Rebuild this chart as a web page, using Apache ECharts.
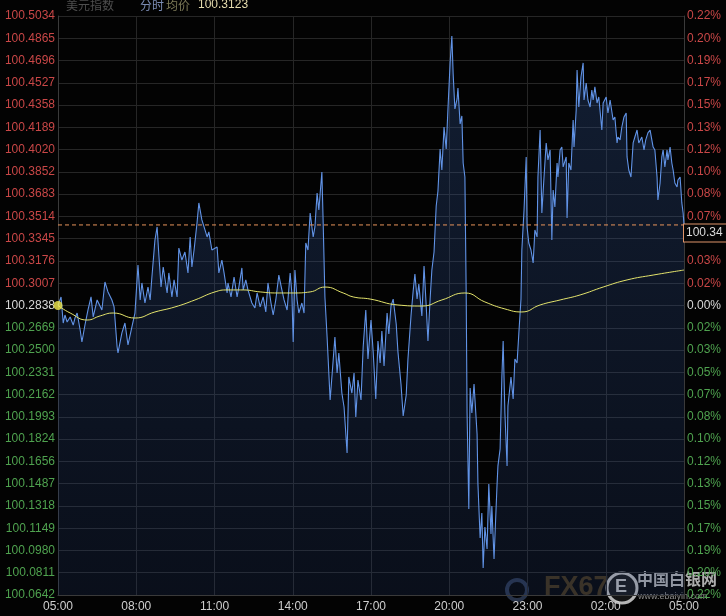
<!DOCTYPE html>
<html><head><meta charset="utf-8">
<script src="https://cdn.jsdelivr.net/npm/echarts@6/dist/echarts.min.js"></script>
<style>html,body{margin:0;padding:0;background:#030303;}#c{width:726px;height:616px;}</style>
</head><body><div id="c"></div>
<script>
// ---------------- data ----------------
const timeLabels = ['05:00','08:00','11:00','14:00','17:00','20:00','23:00','02:00','05:00'];
const priceLabels = ['100.0642','100.0811','100.0980','100.1149','100.1318','100.1487','100.1656','100.1824','100.1993','100.2162','100.2331','100.2500','100.2669','100.2838','100.3007','100.3176','100.3345','100.3514','100.3683','100.3852','100.4020','100.4189','100.4358','100.4527','100.4696','100.4865','100.5034'];
const pctLabels = ['0.22%','0.20%','0.19%','0.17%','0.15%','0.13%','0.12%','0.10%','0.08%','0.07%','0.05%','0.03%','0.02%','0.00%','0.02%','0.03%','0.05%','0.07%','0.08%','0.10%','0.12%','0.13%','0.15%','0.17%','0.19%','0.20%','0.22%'];
const priceMin = 100.0642, priceMax = 100.5034, prevClose = 100.2838;
const lastPrice = 100.3449, lastPriceText = '100.34';
const sessionStart = 0, sessionEnd = 1440;
const headerName = '美元指数', headerMode = '分时', headerAvg = '均价', headerValue = '100.3123';
// minutes after 05:00, price
const priceTrace = [[0,100.2838],[7,100.2903],[12,100.2705],[16,100.2766],[21,100.2713],[28,100.2751],[35,100.2690],[39,100.2743],[44,100.2781],[51,100.2652],[55,100.2561],[62,100.2690],[69,100.2804],[76,100.2903],[81,100.2751],[90,100.2880],[101,100.2804],[108,100.3016],[115,100.2941],[124,100.2880],[129,100.2827],[136,100.2523],[138,100.2478],[147,100.2630],[154,100.2705],[161,100.2539],[170,100.2675],[177,100.2781],[184,100.3145],[189,100.2880],[193,100.3009],[200,100.2857],[207,100.2978],[212,100.2880],[216,100.3054],[223,100.3335],[228,100.3434],[232,100.3221],[237,100.2978],[242,100.3130],[251,100.2933],[255,100.3085],[262,100.2903],[267,100.3032],[274,100.2903],[278,100.3274],[285,100.3183],[292,100.3244],[299,100.3085],[304,100.3358],[308,100.3130],[313,100.3259],[320,100.3471],[324,100.3616],[331,100.3487],[336,100.3434],[343,100.3358],[347,100.3396],[354,100.3259],[366,100.3282],[370,100.3085],[377,100.3183],[382,100.3085],[389,100.2933],[391,100.3009],[398,100.2903],[405,100.3054],[412,100.2903],[416,100.2978],[423,100.3123],[426,100.2956],[432,100.3032],[437,100.2956],[446,100.2857],[453,100.2819],[458,100.2933],[465,100.2827],[472,100.2903],[478,100.2789],[483,100.3009],[490,100.2857],[495,100.2766],[501,100.2880],[508,100.3069],[515,100.2956],[520,100.2880],[527,100.2804],[534,100.3085],[538,100.2933],[541,100.2561],[545,100.3107],[550,100.2880],[554,100.2781],[561,100.2857],[566,100.2781],[570,100.3312],[575,100.3259],[580,100.3540],[587,100.3358],[591,100.3434],[596,100.3691],[600,100.3563],[607,100.3851],[610,100.3464],[614,100.2903],[619,100.2599],[626,100.2121],[633,100.2425],[637,100.2599],[642,100.2326],[646,100.2478],[653,100.2174],[658,100.2068],[665,100.1719],[669,100.2296],[676,100.2174],[681,100.2326],[685,100.1992],[690,100.2273],[697,100.2121],[702,100.2523],[708,100.2804],[713,100.2432],[720,100.2728],[725,100.2486],[731,100.2129],[736,100.2569],[741,100.2402],[745,100.2645],[750,100.2379],[757,100.2781],[761,100.2622],[766,100.2834],[771,100.2887],[778,100.2698],[782,100.2486],[789,100.2243],[794,100.2000],[801,100.2159],[805,100.2432],[812,100.2759],[817,100.2948],[821,100.3077],[826,100.2887],[830,100.3001],[837,100.2759],[842,100.3138],[847,100.2834],[851,100.2569],[856,100.2887],[860,100.3107],[865,100.3244],[870,100.3593],[874,100.3707],[879,100.4025],[883,100.3866],[888,100.4192],[893,100.4025],[897,100.4329],[902,100.4678],[906,100.4882],[909,100.4594],[913,100.4329],[918,100.4405],[920,100.4488],[925,100.4215],[929,100.4276],[932,100.3919],[936,100.3813],[939,100.2918],[941,100.2023],[945,100.1295],[948,100.2212],[952,100.2023],[957,100.2243],[964,100.1863],[966,100.1484],[971,100.1075],[975,100.1264],[978,100.0847],[982,100.1158],[987,100.0991],[991,100.1484],[996,100.1105],[998,100.1317],[1003,100.0915],[1010,100.1484],[1012,100.1621],[1017,100.1750],[1021,100.2296],[1024,100.2569],[1028,100.2023],[1033,100.1621],[1035,100.2076],[1042,100.2296],[1047,100.2129],[1051,100.2432],[1056,100.2402],[1060,100.2622],[1065,100.2887],[1067,100.3259],[1072,100.3563],[1077,100.3965],[1079,100.3434],[1083,100.3312],[1088,100.3259],[1093,100.3161],[1097,100.3411],[1102,100.3358],[1104,100.3813],[1109,100.4169],[1113,100.3540],[1118,100.3813],[1123,100.4071],[1127,100.3942],[1132,100.4018],[1136,100.3335],[1139,100.3714],[1143,100.3585],[1148,100.3919],[1150,100.3813],[1155,100.4018],[1159,100.4040],[1162,100.3889],[1169,100.3965],[1171,100.3502],[1175,100.3919],[1180,100.3866],[1185,100.4245],[1187,100.4040],[1192,100.4321],[1194,100.4624],[1198,100.4344],[1203,100.4571],[1208,100.4678],[1210,100.4397],[1215,100.4526],[1219,100.4397],[1224,100.4344],[1228,100.4473],[1231,100.4397],[1235,100.4496],[1240,100.4374],[1244,100.4420],[1251,100.4169],[1254,100.4374],[1261,100.4420],[1265,100.4298],[1270,100.4397],[1277,100.4245],[1281,100.4268],[1286,100.4071],[1288,100.4116],[1293,100.4094],[1297,100.4192],[1302,100.4268],[1307,100.4298],[1309,100.3965],[1313,100.3866],[1318,100.3813],[1323,100.4071],[1327,100.4116],[1332,100.4169],[1336,100.4071],[1343,100.4116],[1348,100.4018],[1352,100.4094],[1357,100.4147],[1362,100.4169],[1369,100.4040],[1373,100.4018],[1378,100.3813],[1380,100.3638],[1385,100.3767],[1389,100.3965],[1392,100.4018],[1396,100.3889],[1401,100.4018],[1403,100.3942],[1408,100.4040],[1412,100.3919],[1415,100.3866],[1419,100.3767],[1424,100.3737],[1426,100.3790],[1431,100.3813],[1435,100.3616],[1438,100.3540],[1440,100.3449]];
const avgTrace = [[0,100.2838],[28,100.2781],[67,100.2728],[97,100.2759],[127,100.2781],[177,100.2743],[223,100.2789],[269,100.2827],[315,100.2880],[361,100.2941],[389,100.2956],[426,100.2956],[465,100.2941],[504,100.2933],[541,100.2933],[580,100.2941],[614,100.2978],[656,100.2933],[679,100.2903],[718,100.2887],[782,100.2842],[837,100.2834],[883,100.2880],[936,100.2933],[982,100.2865],[1028,100.2812],[1067,100.2789],[1109,100.2842],[1155,100.2880],[1201,100.2918],[1254,100.2978],[1309,100.3032],[1369,100.3069],[1440,100.3107]];

// ---------------- chart ----------------
const FONT = '"Liberation Sans", Arial, sans-serif';
const CJK = '"Noto Sans CJK SC", sans-serif';
const UP = '#c94747', DOWN = '#4fa24f', MID = '#d8d8d8';
const mid = 13;
const labelColor = (v) => v > mid ? UP : (v < mid ? DOWN : MID);

const chart = echarts.init(document.getElementById('c'), null, {renderer: 'canvas'});
chart.setOption({
  backgroundColor: '#030303',
  animation: false,
  grid: {left: 58, right: 42, top: 16, bottom: 21, containLabel: false},
  xAxis: {
    type: 'value', min: sessionStart, max: sessionEnd, interval: 180,
    axisLine: {show: true, lineStyle: {color: '#3a3a3a'}},
    axisTick: {show: false},
    axisLabel: {color: '#cfcfcf', fontSize: 12, fontFamily: FONT, margin: 6,
      showMinLabel: true, showMaxLabel: true,
      formatter: (v) => timeLabels[Math.round(v / 180)] || ''},
    splitLine: {show: true, lineStyle: {color: '#262626', width: 1}}
  },
  yAxis: [
    {type: 'value', min: priceMin, max: priceMax, show: false, scale: true},
    {type: 'value', position: 'left', min: 0, max: 26, interval: 1,
      axisLine: {show: true, lineStyle: {color: '#3a3a3a'}},
      axisTick: {show: false},
      axisLabel: {fontSize: 12, fontFamily: FONT, margin: 3,
        formatter: (v) => priceLabels[Math.round(v)] || '',
        color: (v) => labelColor(Math.round(Number(v)))},
      splitLine: {show: true, lineStyle: {color: '#262626', width: 1}}},
    {type: 'value', position: 'right', min: 0, max: 26, interval: 1,
      axisLine: {show: true, lineStyle: {color: '#3a3a3a'}},
      axisTick: {show: false},
      axisLabel: {fontSize: 12, fontFamily: FONT, margin: 3,
        formatter: (v) => pctLabels[Math.round(v)] || '',
        color: (v) => labelColor(Math.round(Number(v)))},
      splitLine: {show: false}}
  ],
  series: [
    {
      type: 'line', yAxisIndex: 0, data: priceTrace, showSymbol: false,
      lineStyle: {color: '#6193e6', width: 1.1},
      areaStyle: {origin: 'start', color: new echarts.graphic.LinearGradient(0, 0, 0, 1, [
        {offset: 0, color: 'rgba(55,95,165,0.42)'},
        {offset: 1, color: 'rgba(35,60,115,0.30)'}])},
      z: 3
    },
    {
      type: 'line', yAxisIndex: 0, data: [[sessionStart, lastPrice], [sessionEnd, lastPrice]],
      showSymbol: false, silent: true,
      lineStyle: {color: '#e8945c', type: [4, 3], width: 1},
      itemStyle: {color: '#e8945c'},
      endLabel: {show: true, formatter: lastPriceText, color: '#dcdcdc', fontSize: 12,
        fontFamily: FONT, backgroundColor: '#050505', borderColor: '#e0956a', borderWidth: 1,
        padding: [3, 6, 2, 2], distance: 0, offset: [0, 8]},
      z: 6
    },
    {
      type: 'line', yAxisIndex: 0, data: avgTrace, showSymbol: false, smooth: true,
      lineStyle: {color: '#e4e46c', width: 1}, z: 4
    },
    {
      type: 'scatter', yAxisIndex: 0, data: [priceTrace[0]], symbolSize: 9,
      itemStyle: {color: '#f3ea4e'}, z: 5
    }
  ],
  graphic: [
    {type: 'text', left: 66, top: -1, style: {text: headerName, fill: '#4e4e4e', font: '12px ' + CJK}},
    {type: 'text', left: 140, top: -1, style: {text: headerMode, fill: '#7b8cb4', font: '12px ' + CJK}},
    {type: 'text', left: 166, top: -1, style: {text: headerAvg, fill: '#7d7a58', font: '12px ' + CJK}},
    {type: 'text', left: 198, top: -1, style: {text: headerValue, fill: '#e6dcae', font: '12px ' + FONT}},
    {type: 'circle', shape: {cx: 517, cy: 590, r: 10}, style: {fill: 'none', stroke: 'rgba(70,90,130,0.55)', lineWidth: 4}},
    {type: 'text', left: 544, top: 574, style: {text: 'FX678', fill: 'rgba(115,85,35,0.55)', font: 'bold 27px ' + FONT}},
    {type: 'circle', shape: {cx: 622, cy: 588, r: 15}, style: {fill: '#151515', stroke: 'rgba(225,225,225,0.8)', lineWidth: 3}},
    {type: 'text', left: 615, top: 578, style: {text: 'E', fill: 'rgba(225,225,225,0.8)', font: 'bold 18px ' + FONT}},
    {type: 'text', left: 637, top: 571, style: {text: '中国白银网', fill: 'rgba(205,205,205,0.85)', font: 'bold 16px ' + CJK}},
    {type: 'text', left: 638, top: 592, style: {text: 'www.ebaiyin.com', fill: 'rgba(185,185,185,0.75)', font: '9px ' + FONT}}
  ]
});
</script>
</body></html>
